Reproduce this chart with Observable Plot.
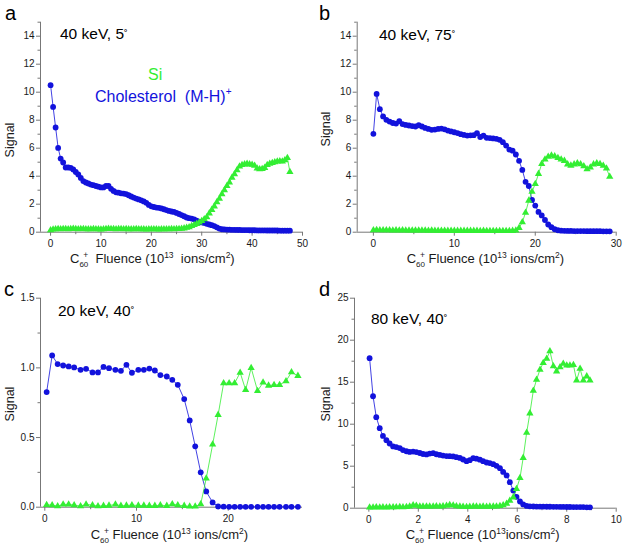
<!DOCTYPE html>
<html><head><meta charset="utf-8">
<script src="https://cdn.jsdelivr.net/npm/d3@7"></script>
<script src="https://cdn.jsdelivr.net/npm/@observablehq/plot@0.6"></script>
<style>
body{margin:0;background:#fff;}
#root{position:relative;width:628px;height:553px;font-family:"Liberation Sans",Arial,Helvetica,sans-serif;}
#root svg{position:absolute;}
</style></head><body><div id="root"></div>
<script>
// ---------- DATA ----------
const aFluence = [0,0.5,1,1.5,2,2.5,3,3.5,4,4.5,5,5.5,6,6.5,7,7.5,8,8.5,9,9.5,10,10.5,11,11.5,12,12.5,13,13.5,14,14.5,15,15.5,16,16.5,17,17.5,18,18.5,19,19.5,20,20.5,21,21.5,22,22.5,23,23.5,24,24.5,25,25.5,26,26.5,27,27.5,28,28.5,29,29.5,30,30.5,31,31.5,32,32.5,33,33.5,34,34.5,35,35.5,36,36.5,37,37.5,38,38.5,39,39.5,40,40.5,41,41.5,42,42.5,43,43.5,44,44.5,45,45.5,46,46.5,47,47.5];
const aChol = [10.5,8.95,7.48,6.02,5.26,4.98,4.62,4.62,4.6,4.48,4.3,4.12,3.88,3.65,3.55,3.48,3.4,3.36,3.3,3.25,3.2,3.2,3.3,3.3,3.1,2.95,2.85,2.82,2.78,2.76,2.72,2.64,2.55,2.47,2.4,2.34,2.28,2.2,2.1,1.95,1.85,1.8,1.76,1.74,1.7,1.64,1.58,1.52,1.48,1.45,1.38,1.3,1.22,1.14,1.05,1.0,0.97,0.92,0.82,0.74,0.7,0.66,0.6,0.55,0.5,0.44,0.35,0.26,0.21,0.2,0.19,0.18,0.17,0.17,0.16,0.16,0.15,0.15,0.15,0.14,0.14,0.14,0.13,0.13,0.13,0.13,0.12,0.12,0.12,0.12,0.12,0.11,0.11,0.11,0.11,0.11];
const aSi = [0.15,0.2,0.22,0.24,0.22,0.23,0.24,0.22,0.23,0.25,0.24,0.22,0.23,0.24,0.22,0.21,0.22,0.23,0.21,0.22,0.2,0.22,0.24,0.25,0.24,0.23,0.22,0.24,0.23,0.22,0.23,0.22,0.21,0.22,0.23,0.22,0.21,0.22,0.2,0.21,0.22,0.21,0.22,0.2,0.21,0.22,0.21,0.22,0.23,0.22,0.23,0.24,0.25,0.28,0.32,0.36,0.45,0.52,0.6,0.7,0.8,0.93,1.08,1.35,1.6,1.85,2.15,2.4,2.72,3.0,3.3,3.55,3.9,4.15,4.43,4.7,4.8,4.85,4.9,4.85,4.82,4.75,4.55,4.5,4.52,4.6,4.8,4.9,4.95,5.0,5.05,5.07,5.05,5.15,5.3,4.3];

const bFluence = [0,0.4,0.8,1.2,1.6,2,2.4,2.8,3.2,3.6,4,4.4,4.8,5.2,5.6,6,6.4,6.8,7.2,7.6,8,8.4,8.8,9.2,9.6,10,10.4,10.8,11.2,11.6,12,12.4,12.8,13.2,13.6,14,14.4,14.8,15.2,15.6,16,16.4,16.8,17.2,17.6,18,18.4,18.8,19.2,19.6,20,20.4,20.8,21.2,21.6,22,22.4,22.8,23.2,23.6,24,24.4,24.8,25.2,25.6,26,26.4,26.8,27.2,27.6,28,28.4,28.8,29.2];
const bChol = [7.03,9.88,8.79,8.27,8.03,7.9,7.8,7.76,7.93,7.72,7.66,7.62,7.58,7.55,7.64,7.55,7.45,7.38,7.31,7.33,7.38,7.4,7.35,7.26,7.2,7.14,7.08,7.0,6.95,6.9,6.92,6.93,7.07,6.8,6.9,6.74,6.72,6.7,6.67,6.6,6.43,6.19,5.9,5.82,5.55,5.1,4.45,3.6,3.3,2.3,1.9,1.45,1.2,0.87,0.55,0.36,0.21,0.14,0.11,0.1,0.09,0.09,0.08,0.08,0.08,0.08,0.07,0.07,0.07,0.07,0.07,0.06,0.06,0.06];
const bSi = [0.15,0.16,0.15,0.14,0.15,0.14,0.13,0.14,0.13,0.14,0.13,0.13,0.12,0.13,0.12,0.12,0.12,0.11,0.12,0.11,0.11,0.11,0.11,0.1,0.11,0.1,0.1,0.1,0.1,0.1,0.1,0.1,0.1,0.09,0.1,0.09,0.09,0.09,0.09,0.09,0.09,0.09,0.09,0.1,0.12,0.3,0.71,1.4,2.26,2.9,3.45,4.17,4.88,5.2,5.4,5.48,5.42,5.3,5.2,5.1,4.85,4.76,4.85,4.93,4.86,4.72,4.5,4.62,4.85,4.93,4.88,4.75,4.55,3.97];

const cFluence = [0.2,0.8,1.4,2.0,2.6,3.2,3.9,4.5,5.2,5.8,6.4,7.0,7.7,8.3,8.9,9.5,10.2,10.8,11.4,12.0,12.6,13.3,13.9,14.5,15.2,15.8,16.4,17.0,17.6,18.3,18.9,19.5,20.1,20.7,21.3,21.9,22.5,23.2,23.8,24.4,25.0,25.6,26.3,26.9,27.6];
const cChol = [0.826,1.089,1.027,1.017,1.01,1.003,0.986,0.993,0.967,0.967,1.007,0.998,0.986,0.979,1.022,0.965,0.986,0.986,0.995,0.981,0.948,0.938,0.914,0.878,0.776,0.623,0.437,0.25,0.113,0.034,0.005,0.004,0.003,0.003,0.003,0.003,0.003,0.003,0.003,0.003,0.003,0.003,0.003,0.003,0.003];
const cSi = [0.017,0.015,0.008,0.02,0.02,0.015,0.008,0.02,0.015,0.008,0.01,0.012,0.02,0.01,0.012,0.015,0.012,0.012,0.01,0.01,0.015,0.01,0.022,0.015,0.01,0.005,0.005,0.022,0.206,0.45,0.663,0.89,0.89,0.89,0.966,0.842,1.0,0.835,0.895,0.873,0.878,0.878,0.905,0.969,0.943];

const dFluence = [0.03,0.17,0.30,0.44,0.57,0.71,0.84,0.98,1.11,1.25,1.38,1.52,1.65,1.79,1.92,2.06,2.19,2.33,2.46,2.60,2.73,2.87,3.00,3.14,3.27,3.41,3.54,3.68,3.81,3.95,4.08,4.22,4.35,4.49,4.62,4.76,4.89,5.03,5.16,5.30,5.43,5.57,5.70,5.84,5.97,6.11,6.24,6.38,6.51,6.65,6.78,6.92,7.05,7.19,7.32,7.46,7.59,7.73,7.86,8.00,8.13,8.27,8.40,8.54,8.67,8.81,8.94];
const dChol = [17.86,13.33,10.84,9.53,8.6,8.1,7.7,7.36,7.28,7.16,6.92,6.78,6.7,6.74,6.68,6.57,6.45,6.4,6.5,6.55,6.42,6.34,6.27,6.2,6.19,6.16,6.08,5.98,5.8,5.6,5.72,5.95,5.9,5.78,5.6,5.44,5.37,5.24,5.05,4.76,4.32,3.9,3.1,2.1,1.35,0.8,0.45,0.27,0.22,0.2,0.19,0.18,0.18,0.17,0.17,0.16,0.16,0.15,0.15,0.14,0.14,0.13,0.13,0.12,0.12,0.11,0.11];
const dSi = [0.1,0.1,0.12,0.1,0.12,0.1,0.12,0.13,0.12,0.14,0.12,0.15,0.22,0.35,0.3,0.22,0.2,0.22,0.2,0.22,0.24,0.22,0.25,0.3,0.4,0.32,0.25,0.2,0.18,0.15,0.18,0.2,0.2,0.18,0.2,0.18,0.2,0.22,0.22,0.28,0.35,0.55,0.9,1.3,2.3,3.6,6.0,9.0,11.3,14.0,15.3,16.5,17.3,17.8,18.7,16.9,16.3,16.8,17.2,17.0,17.0,17.05,15.2,16.6,15.2,15.7,15.2];

const panelLetters = ["a","b","c","d"];
const panelTitles = ["40 keV, 5","40 keV, 75","20 keV, 40","80 keV, 40"];
const seriesNames = ["Si","Cholesterol  (M-H)","+"];
const yLabel = "Signal";

// ---------- STYLE / LAYOUT ----------
const FONT = '"Liberation Sans", Arial, Helvetica, sans-serif';
const BLUE = "#1212dc", GREEN = "#33ee33", AXIS = "#777777", TXT = "#1a1a1a";

const panels = [
  {left:0, top:0, h:276, ml:40, mr:12, mt:21.7, mb:44.3, fl:aFluence, chol:aChol, si:aSi,
   xd:[-2,50], xM:[0,10,20,30,40,50], xm:[5,15,25,35,45],
   yd:[0,15], yM:[0,2,4,6,8,10,12,14], ym:[1,3,5,7,9,11,13,15], yf:d3.format("d"),
   letter:[5,20], title:[60,39], ylab:[14,140], xlab:[70,263], wide:true, legend:true},
  {left:314, top:0, h:276, ml:42.7, mr:12.3, mt:21.7, mb:44.3, fl:bFluence, chol:bChol, si:bSi,
   xd:[-2,30], xM:[0,10,20,30], xm:[5,15,25],
   yd:[0,15], yM:[0,2,4,6,8,10,12,14], ym:[1,3,5,7,9,11,13,15], yf:d3.format("d"),
   letter:[5,20], title:[65,40], ylab:[15.5,129], xlab:[92.7,263]},
  {left:0, top:276, h:277, ml:40, mr:12, mt:21.7, mb:46.3, fl:cFluence, chol:cChol, si:cSi,
   xd:[-0.47,28.1], xM:[0,10,20], xm:[5,15,25],
   yd:[0,1.5], yM:[0,0.5,1,1.5], ym:[0.25,0.75,1.25], yf:d3.format(".1f"),
   letter:[4,19.5], title:[58,40], ylab:[13.6,128], xlab:[90.7,263]},
  {left:314, top:276, h:277, ml:40, mr:12.3, mt:21.7, mb:45.3, fl:dFluence, chol:dChol, si:dSi,
   xd:[-0.58,10], xM:[0,2,4,6,8,10], xm:[1,3,5,7,9],
   yd:[0,25], yM:[0,5,10,15,20,25], ym:[2.5,7.5,12.5,17.5,22.5], yf:d3.format("d"),
   letter:[5,19.5], title:[57,47.7], ylab:[16,128], xlab:[91.7,263], tight:true}
];

function rich(sel, x, y, size, fill, parts) {
  const t = sel.append("text").attr("x", x).attr("y", y).attr("font-size", size)
    .attr("fill", fill).attr("font-family", FONT).attr("text-anchor", "start")
    .style("white-space", "pre");
  let cur = 0;
  for (const p of parts) {
    const sh = p.shift || 0;
    const ts = t.append("tspan").attr("dy", cur - sh).text(p.t);
    if (p.size) ts.attr("font-size", p.size);
    if (p.dx) ts.attr("dx", p.dx);
    cur = sh;
  }
  return t;
}

const root = document.getElementById("root");
panels.forEach((p, k) => {
  const chol = p.fl.map((x, i) => ({x, y: p.chol[i]}));
  const si = p.fl.map((x, i) => ({x, y: p.si[i]}));
  const svg = Plot.plot({
    width: 314, height: p.h,
    marginLeft: p.ml, marginRight: p.mr, marginTop: p.mt, marginBottom: p.mb,
    style: {fontFamily: FONT, fontSize: "10px", color: TXT, background: "transparent", overflow: "visible"},
    x: {domain: p.xd}, y: {domain: p.yd},
    marks: [
      Plot.axisX({ticks: p.xM, tickSize: 4, tickPadding: 4, stroke: AXIS, label: null, tickFormat: d3.format("d"), fontSize: 10}),
      Plot.axisX({ticks: p.xm, tickSize: 2.5, stroke: AXIS, fill: "none", label: null}),
      Plot.axisY({ticks: p.yM, tickSize: 4, tickPadding: 2, stroke: AXIS, label: null, tickFormat: p.yf, fontSize: 10}),
      Plot.axisY({ticks: p.ym, tickSize: 2.5, stroke: AXIS, fill: "none", label: null}),
      Plot.ruleY([p.yd[0]], {stroke: AXIS, strokeWidth: 1}),
      Plot.ruleX([p.xd[0]], {stroke: AXIS, strokeWidth: 1}),
      Plot.line(chol, {x: "x", y: "y", stroke: BLUE, strokeWidth: 0.8}),
      Plot.dot(chol, {x: "x", y: "y", r: 2.9, fill: BLUE}),
      Plot.line(si, {x: "x", y: "y", stroke: GREEN, strokeWidth: 0.8}),
      Plot.dot(si, {x: "x", y: "y", r: 2.7, symbol: "triangle", fill: GREEN})
    ]
  });
  svg.style.left = p.left + "px";
  svg.style.top = p.top + "px";
  const s = d3.select(svg);
  s.append("text").attr("x", p.letter[0]).attr("y", p.letter[1]).attr("font-size", 20)
    .attr("font-family", FONT).attr("fill", "#000").attr("text-anchor", "start").text(panelLetters[k]);
  rich(s, p.title[0], p.title[1], 15.5, "#000", [{t: panelTitles[k]}, {t: "˚", size: 11, shift: 1}]);
  s.append("text").attr("transform", `translate(${p.ylab[0]},${p.ylab[1]}) rotate(-90)`)
    .attr("text-anchor", "middle").attr("font-size", 12.5).attr("font-family", FONT)
    .attr("fill", TXT).text(yLabel);
  const gap = p.wide ? "  " : " ";
  const mid = p.tight ? "" : (p.wide ? "  " : " ");
  rich(s, p.xlab[0], p.xlab[1], 13, TXT, [
    {t: "C"}, {t: "60", size: 8, shift: -3.5}, {t: "+", size: 8.5, shift: 5.5, dx: -5},
    {t: gap + "Fluence (10"}, {t: "13", size: 8.5, shift: 5.5}, {t: mid + "ions/cm"},
    {t: "2", size: 8.5, shift: 5.5}, {t: ")"}
  ]);
  if (p.legend) {
    s.append("text").attr("x", 148).attr("y", 80).attr("font-size", 16).attr("font-family", FONT)
      .attr("fill", GREEN).attr("text-anchor", "start").text(seriesNames[0]);
    rich(s, 95, 101.7, 16, BLUE, [{t: seriesNames[1]}, {t: seriesNames[2], size: 10, shift: 7}]);
  }
  root.appendChild(svg);
});
</script></body></html>
